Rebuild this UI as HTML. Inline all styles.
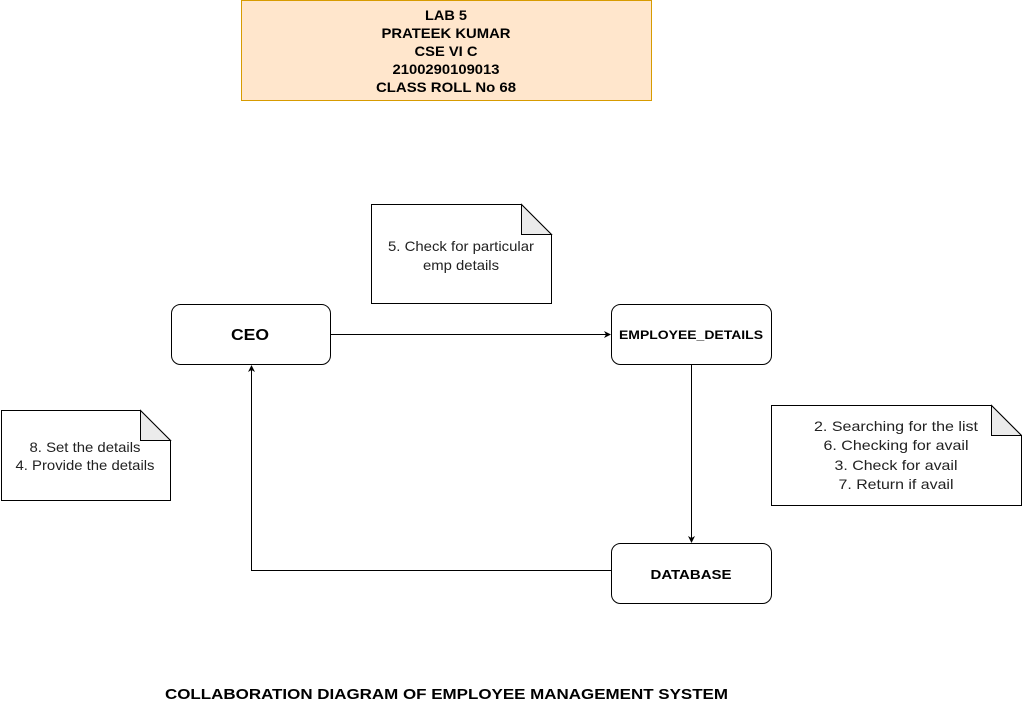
<!DOCTYPE html>
<html><head><style>html,body{margin:0;padding:0;background:#fff}svg{display:block}text{font-family:"Liberation Sans",Arial,sans-serif}</style></head>
<body>
<svg width="1022" height="711" viewBox="0 0 1022 711" xmlns="http://www.w3.org/2000/svg">
<rect x="241.5" y="0.5" width="410" height="100" fill="#ffe6cc" stroke="#d79b00"/>
<g font-size="14" font-weight="bold" text-anchor="middle" fill="#000" lengthAdjust="spacingAndGlyphs">
<text x="446" y="20" textLength="42" lengthAdjust="spacingAndGlyphs">LAB 5</text>
<text x="446" y="38" textLength="129" lengthAdjust="spacingAndGlyphs">PRATEEK KUMAR</text>
<text x="446" y="56" textLength="63" lengthAdjust="spacingAndGlyphs">CSE VI C</text>
<text x="446" y="74" textLength="107" lengthAdjust="spacingAndGlyphs">2100290109013</text>
<text x="446" y="92" textLength="140" lengthAdjust="spacingAndGlyphs">CLASS ROLL No 68</text>
</g>
<path d="M371.5 204.5 H521.5 L551.5 234.5 V303.5 H371.5 Z" fill="#fff" stroke="#000"/>
<path d="M521.5 204.5 V234.5 H551.5 Z" fill="#ebebeb" stroke="#000"/>
<g font-size="14" text-anchor="middle" fill="#222">
<text x="461" y="251" textLength="146" lengthAdjust="spacingAndGlyphs">5. Check for particular</text>
<text x="461" y="270" textLength="76" lengthAdjust="spacingAndGlyphs">emp details</text></g>
<path d="M1.5 410.5 H140.5 L170.5 440.5 V500.5 H1.5 Z" fill="#fff" stroke="#000"/>
<path d="M140.5 410.5 V440.5 H170.5 Z" fill="#ebebeb" stroke="#000"/>
<g font-size="14" text-anchor="middle" fill="#222">
<text x="85" y="452" textLength="111" lengthAdjust="spacingAndGlyphs">8. Set the details</text>
<text x="85" y="470" textLength="139" lengthAdjust="spacingAndGlyphs">4. Provide the details</text></g>
<path d="M771.5 405.5 H991.5 L1021.5 435.5 V505.5 H771.5 Z" fill="#fff" stroke="#000"/>
<path d="M991.5 405.5 V435.5 H1021.5 Z" fill="#ebebeb" stroke="#000"/>
<g font-size="14" text-anchor="middle" fill="#222">
<text x="896" y="431" textLength="164" lengthAdjust="spacingAndGlyphs">2. Searching for the list</text>
<text x="896" y="450" textLength="145" lengthAdjust="spacingAndGlyphs">6. Checking for avail</text>
<text x="896" y="470" textLength="123" lengthAdjust="spacingAndGlyphs">3. Check for avail</text>
<text x="896" y="489" textLength="115" lengthAdjust="spacingAndGlyphs">7. Return if avail</text></g>
<rect x="171.5" y="304.5" width="159" height="60" rx="9" fill="#fff" stroke="#000"/>
<text x="250" y="340" font-size="16" font-weight="bold" text-anchor="middle" textLength="38" lengthAdjust="spacingAndGlyphs">CEO</text>
<rect x="611.5" y="304.5" width="160" height="60" rx="9" fill="#fff" stroke="#000"/>
<text x="691" y="339" font-size="12" font-weight="bold" text-anchor="middle" textLength="144" lengthAdjust="spacingAndGlyphs">EMPLOYEE_DETAILS</text>
<rect x="611.5" y="543.5" width="160" height="60" rx="9" fill="#fff" stroke="#000"/>
<text x="691" y="579" font-size="13" font-weight="bold" text-anchor="middle" textLength="81" lengthAdjust="spacingAndGlyphs">DATABASE</text>
<g stroke="#000" fill="none"><path d="M330.5 334.5 H606"/><path d="M691.5 364.5 V538"/><path d="M611.5 570.5 H251.5 V370"/></g>
<g fill="#000"><path d="M611 334.5 L604 331 L606 334.5 L604 338 Z"/><path d="M691.5 543 L688 536 L691.5 538 L695 536 Z"/><path d="M251.5 365 L248 372 L251.5 370 L255 372 Z"/></g>
<text x="446.5" y="699" font-size="15" font-weight="bold" text-anchor="middle" textLength="563" lengthAdjust="spacingAndGlyphs">COLLABORATION DIAGRAM OF EMPLOYEE MANAGEMENT SYSTEM</text>
</svg>
</body></html>
